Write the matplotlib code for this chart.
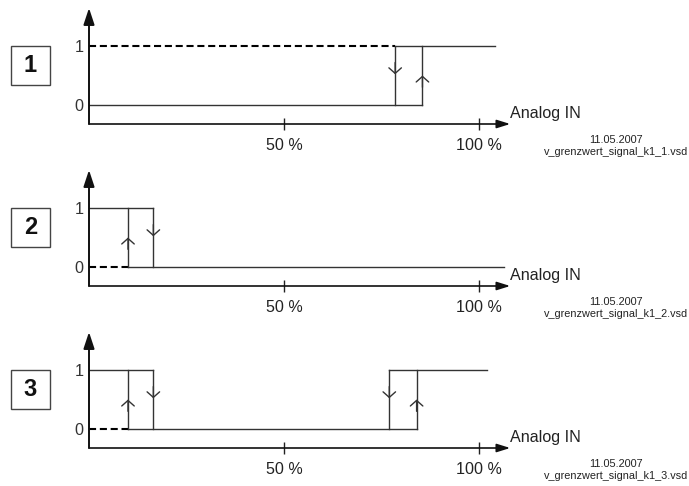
import matplotlib
matplotlib.use("Agg")
import matplotlib.pyplot as plt
from matplotlib.patches import Rectangle

plt.rcParams['font.family'] = ['Liberation Sans', 'DejaVu Sans']

# --- data: three switching characteristics (x in % of analog input, level 0/1)
panel_labels = ["1", "2", "3"]
switch_up = [[85.5], [10], [10, 84]]          # rising edges (input increasing)
switch_down = [[78.5], [16.5], [16.5, 77]]    # falling edges (input decreasing)
high_solid = [[(78.5, 104)], [(0, 16.5)], [(0, 16.5), (77, 102)]]
low_solid = [[(0, 85.5)], [(10, 106.5)], [(10, 84)]]
high_dashed = [[(0, 78.5)], [], []]
low_dashed = [[], [(0, 10)], [(0, 10)]]
x_ticks = [50, 100]
x_tick_labels = ["50 %", "100 %"]
y_ticks = [0, 1]
y_tick_labels = ["0", "1"]
x_label = "Analog IN"
date_text = "11.05.2007"
file_names = ["v_grenzwert_signal_k1_1.vsd", "v_grenzwert_signal_k1_2.vsd",
              "v_grenzwert_signal_k1_3.vsd"]

W, H = 689, 486
fig = plt.figure(figsize=(W / 100, H / 100), dpi=100)

axis_px = [124, 286, 448]     # pixel row of each x axis
x0_px = 89                    # pixel column of 0 %
px_per_pct = 3.9
px_per_level = 59
ylo, yhi = -0.322, 1.644
xlo, xhi = 0, 110
x_arrow_end = 108

line_col = "#333333"
ax_col = "#111111"

for i in range(3):
    bottom = axis_px[i]
    top = bottom - (yhi - ylo) * px_per_level
    width = (xhi - xlo) * px_per_pct
    ax = fig.add_axes([x0_px / W, 1 - bottom / H, width / W, (bottom - top) / H])
    ax.set_xlim(xlo, xhi)
    ax.set_ylim(ylo, yhi)
    for s in ax.spines.values():
        s.set_visible(False)
    ax.patch.set_alpha(0)

    # axes with arrow heads
    ax.annotate("", xy=(0, yhi), xytext=(0, ylo),
                arrowprops=dict(arrowstyle="-|>,head_length=1.0,head_width=0.33",
                                lw=1.4, color=ax_col, shrinkA=0, shrinkB=0,
                                mutation_scale=10))
    ax.annotate("", xy=(x_arrow_end, ylo), xytext=(0, ylo),
                arrowprops=dict(arrowstyle="-|>,head_length=0.8,head_width=0.25",
                                lw=1.2, color=ax_col, shrinkA=0, shrinkB=0,
                                mutation_scale=10))
    ax.annotate(x_label, xy=(x_arrow_end, ylo), xytext=(0, 4.5),
                textcoords="offset points", ha="left", va="baseline",
                fontsize=11.6, color="#222222")

    ax.set_xticks(x_ticks)
    ax.set_xticklabels(x_tick_labels)
    ax.tick_params(axis="x", direction="inout", length=8.5, width=1.0,
                   colors="#222222", labelsize=11.6, pad=5.5)
    ax.set_yticks(y_ticks)
    ax.set_yticklabels(y_tick_labels)
    ax.tick_params(axis="y", length=0, labelsize=11.6, colors="#333333", pad=4)

    # signal levels
    for a, b in high_solid[i]:
        ax.plot([a, b], [1, 1], color=line_col, lw=1.0)
    for a, b in low_solid[i]:
        ax.plot([a, b], [0, 0], color=line_col, lw=1.0)
    for a, b in high_dashed[i]:
        ax.plot([a, b], [1, 1], color="black", lw=1.5, dashes=(3.4, 1.8))
    for a, b in low_dashed[i]:
        ax.plot([a, b], [0, 0], color="black", lw=1.5, dashes=(3.4, 1.8))

    # switching edges with direction chevrons
    for x in switch_up[i]:
        ax.plot([x, x], [0, 1], color=line_col, lw=1.0)
        ax.annotate("", xy=(x, 0.5), xytext=(x, 0.3),
                    arrowprops=dict(arrowstyle="->,head_length=0.4,head_width=0.45",
                                    lw=1.0, color=line_col, shrinkA=0, shrinkB=0,
                                    mutation_scale=10))
    for x in switch_down[i]:
        ax.plot([x, x], [0, 1], color=line_col, lw=1.0)
        ax.annotate("", xy=(x, 0.52), xytext=(x, 0.72),
                    arrowprops=dict(arrowstyle="->,head_length=0.4,head_width=0.45",
                                    lw=1.0, color=line_col, shrinkA=0, shrinkB=0,
                                    mutation_scale=10))

    # numbered box
    level1_px = bottom - (0 - ylo) * px_per_level - px_per_level
    fig.add_artist(Rectangle((10.5 / W, 1 - (level1_px + 39) / H), 39.5 / W, 39 / H,
                             transform=fig.transFigure, fill=False,
                             edgecolor="#444444", lw=1.0))
    fig.text(30.5 / W, 1 - (level1_px + 19.5) / H, panel_labels[i],
             ha="center", va="center", fontsize=17, fontweight="bold",
             color="#111111")

    # footer texts
    fig.text(616 / W, 1 - (bottom + 16) / H, date_text, ha="center",
             va="center", fontsize=7.8, color="#222222")
    fig.text(616 / W, 1 - (bottom + 28) / H, file_names[i], ha="center",
             va="center", fontsize=7.8, color="#222222")

fig.savefig("out.png", dpi=100, facecolor="white")
